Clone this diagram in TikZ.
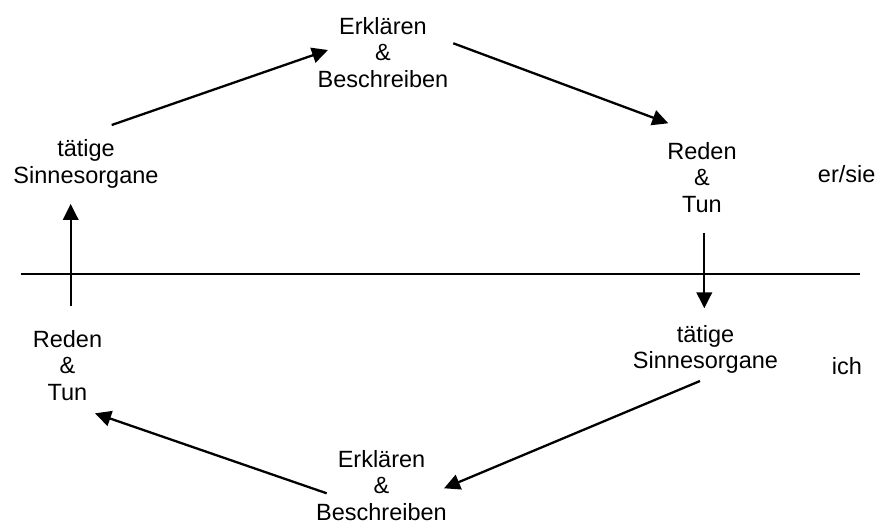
\documentclass[tikz,border=0pt]{standalone}
\usepackage{fontspec}
\setmainfont{Liberation Sans}
\usetikzlibrary{arrows.meta}

\begin{document}
\begin{tikzpicture}[x=1pt,y=-1pt,
  lbl/.style={inner sep=0pt, outer sep=0pt, align=center,
    font=\fontsize{23.5}{26.6}\selectfont},
  arr/.style={line width=2.3pt, -{Triangle[length=16pt,width=15.5pt]}},
  axis/.style={line width=2.3pt}]
  \useasboundingbox (0,0) rectangle (879,524);

  % upper half: er/sie
  \node[lbl] (erkTop) at (383,52.5) {Erklären\\\&\\Beschreiben};
  \node[lbl] (sinnL)  at (86,164)   {tätige\\Sinnesorgane};
  \node[lbl] (redR)   at (702,177.4) {Reden\\\&\\Tun};
  \node[lbl, anchor=base] (ersie) at (846.7,182.7) {er/sie};

  % lower half: ich
  \node[lbl] (redL)   at (67.5,365.2) {Reden\\\&\\Tun};
  \node[lbl] (sinnR)  at (705.5,349.4) {tätige\\Sinnesorgane};
  \node[lbl, anchor=base] (ich) at (847,374) {ich};
  \node[lbl] (erkBot) at (381.5,485.5) {Erklären\\\&\\Beschreiben};

  % dividing line
  \coordinate (axisL) at (20.7,274);
  \coordinate (axisR) at (860,274);
  \draw[axis] (axisL) -- (axisR);

  % cycle of arrows
  \draw[arr] ([shift={(25.7,-39)}]sinnL.center) -- ([shift={(-55,-2.5)}]erkTop.center);
  \draw[arr] ([shift={(70.3,-9.2)}]erkTop.center) -- ([shift={(-33.7,-54.1)}]redR.center);
  \draw[arr] ([shift={(2.3,55.6)}]redR.center) -- ([shift={(-1.2,-41.1)}]sinnR.center);
  \draw[arr] ([shift={(-5.5,31.6)}]sinnR.center) -- ([shift={(62.5,2.8)}]erkBot.center);
  \draw[arr] ([shift={(-54.8,7.8)}]erkBot.center) -- ([shift={(27.5,48.1)}]redL.center);
  \draw[arr] ([shift={(3.2,-59.2)}]redL.center) -- ([shift={(-15.3,40)}]sinnL.center);
\end{tikzpicture}
\end{document}
